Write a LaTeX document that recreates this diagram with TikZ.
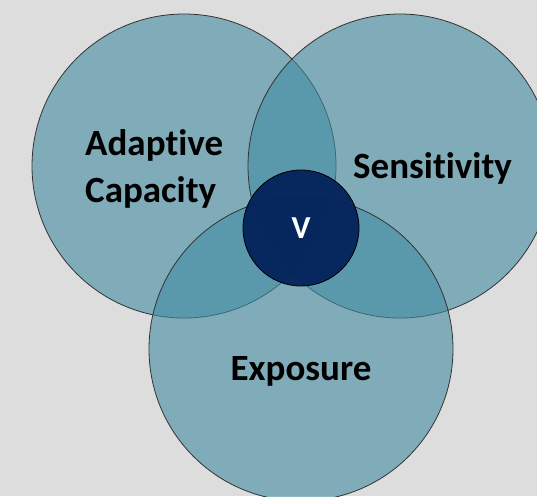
\documentclass[tikz,border=0pt]{standalone}
\usepackage{fontspec}
\setmainfont{Carlito}[Ligatures=NoCommon]
\definecolor{bggray}{HTML}{DDDDDD}
\definecolor{tealc}{RGB}{66,140,162}
\definecolor{navyc}{HTML}{03225A}
\tikzset{
  ring/.style={circle, draw=black!80, line width=0.8pt, fill=tealc, fill opacity=0.6, inner sep=0pt, minimum size=304pt},
  core/.style={circle, draw=black, line width=0.8pt, fill=navyc, fill opacity=0.95, inner sep=0pt, minimum size=116pt},
  word/.style={font=\fontsize{37}{45}\selectfont\bfseries, inner sep=0pt}
}
\begin{document}
\begin{tikzpicture}[x=1pt, y=-1pt]
			% Фон
			\fill[bggray] (0,0) rectangle (537,496);
			\useasboundingbox (0,0) rectangle (537,496);

			% Три круга
			\node[ring] (adcap) at (184,166) {};
			\node[ring] (sens) at (400,166) {};
			\node[ring] (expo) at (301,349) {};

			% Центр
			\node[core] (vuln) at (301,228) {};

			% Подписи
			\node[word, anchor=base west] (adapt) at (85,155) {Adaptive};
			\node[word, anchor=base west] (capac) at (85,202) {Capacity};
			\node[word, anchor=base west] (senst) at (353,178) {Sensitivity};
			\node[word, anchor=base] (expos) at (301,380) {Exposure};
			\node[word, anchor=base, text=white, font=\fontsize{32}{38}\selectfont\bfseries] (vlab) at (301,238) {V};
		\end{tikzpicture}
\end{document}
